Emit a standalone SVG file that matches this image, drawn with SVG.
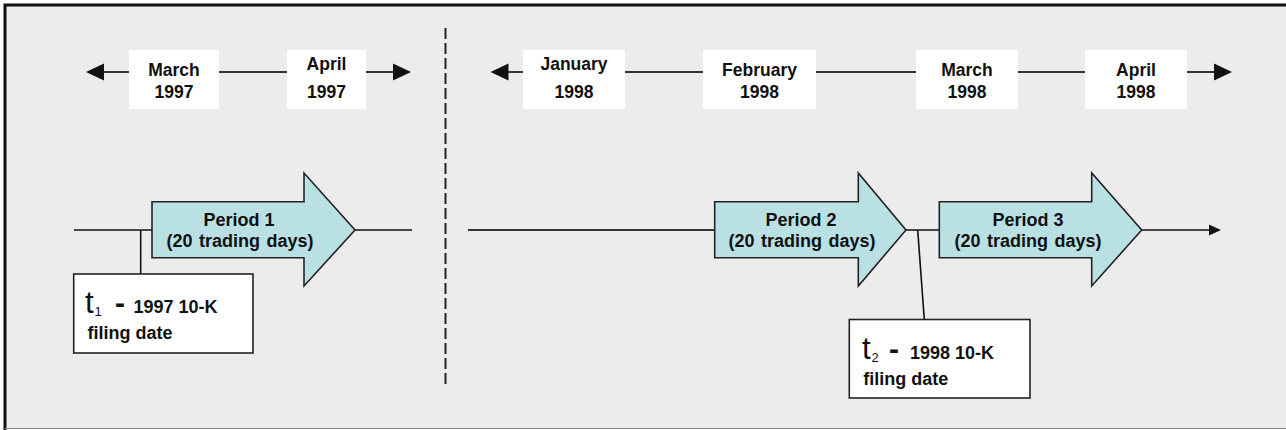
<svg xmlns="http://www.w3.org/2000/svg" width="1286" height="430" viewBox="0 0 1286 430">
<style>
.bg{fill:#ececec}
.mbox{fill:#ffffff;stroke:none}
.mt{font-family:"Liberation Sans",Arial,sans-serif;font-weight:bold;font-size:17.5px;fill:#111;text-anchor:middle}
.pt{font-family:"Liberation Sans",Arial,sans-serif;font-weight:bold;font-size:18px;fill:#111;text-anchor:middle}
.tl{stroke:#333;stroke-width:2;fill:none}
.ln{stroke:#111;stroke-width:1.6;fill:none}
.arr{fill:#b9e0e3;stroke:#222;stroke-width:1.6;stroke-linejoin:miter}
.tbox{fill:#fff;stroke:#222;stroke-width:1.6}
.big{font-family:"Liberation Sans",Arial,sans-serif;font-size:31px;fill:#111}
.bigb{font-family:"Liberation Sans",Arial,sans-serif;font-size:30px;font-weight:bold;fill:#111}
.sub{font-family:"Liberation Sans",Arial,sans-serif;font-size:13px;fill:#111}
.lb{font-family:"Liberation Sans",Arial,sans-serif;font-weight:bold;font-size:18px;fill:#111}
.hd{fill:#111}
</style>
<rect x="0" y="0" width="1286" height="430" fill="#fff"/>
<rect class="bg" x="5" y="5" width="1290" height="423"/>
<path d="M5,430 V5 H1290" stroke="#111" stroke-width="3" fill="none"/>
<line x1="5" y1="428.5" x2="1286" y2="428.5" stroke="#888" stroke-width="1.2"/>
<line x1="445.5" y1="28" x2="445.5" y2="386" stroke="#222" stroke-width="2" stroke-dasharray="11 4"/>

<g id="connectors">
  <line class="tl" x1="100" y1="72" x2="396" y2="72"/>
  <polygon class="hd" points="86,72 104,63.5 104,80.5"/>
  <polygon class="hd" points="411,72 393,63.5 393,80.5"/>
  <line class="tl" x1="504" y1="72" x2="1218" y2="72"/>
  <polygon class="hd" points="490.5,72 508.5,63.5 508.5,80.5"/>
  <polygon class="hd" points="1232,72 1214,63.5 1214,80.5"/>
  <line class="ln" x1="74" y1="230" x2="153" y2="230"/>
  <line class="ln" x1="355" y1="230" x2="412" y2="230"/>
  <line class="ln" x1="140.7" y1="230" x2="140.7" y2="274"/>
  <line class="tl" x1="468" y1="230" x2="715" y2="230"/>
  <line class="ln" x1="906" y1="230" x2="940" y2="230"/>
  <line class="ln" x1="917.7" y1="230" x2="924.3" y2="319.5"/>
  <line class="ln" x1="1142" y1="230" x2="1212" y2="230"/>
  <polygon class="hd" points="1221,230 1209,224.5 1209,235.5"/>
</g>

<g id="m-mar97">
  <rect class="mbox" x="129" y="50" width="90" height="59"/>
  <text class="mt" x="174" y="76">March</text>
  <text class="mt" x="174" y="98">1997</text>
</g>
<g id="m-apr97">
  <rect class="mbox" x="287" y="50" width="79" height="59"/>
  <text class="mt" x="326.5" y="70">April</text>
  <text class="mt" x="326.5" y="98">1997</text>
</g>
<g id="m-jan98">
  <rect class="mbox" x="523" y="50" width="102" height="59"/>
  <text class="mt" x="574" y="70">January</text>
  <text class="mt" x="574" y="98">1998</text>
</g>
<g id="m-feb98">
  <rect class="mbox" x="703" y="50" width="113" height="59"/>
  <text class="mt" x="759.5" y="76">February</text>
  <text class="mt" x="759.5" y="98">1998</text>
</g>
<g id="m-mar98">
  <rect class="mbox" x="916" y="50" width="102" height="59"/>
  <text class="mt" x="967" y="76">March</text>
  <text class="mt" x="967" y="98">1998</text>
</g>
<g id="m-apr98">
  <rect class="mbox" x="1085" y="50" width="102" height="59"/>
  <text class="mt" x="1136" y="76">April</text>
  <text class="mt" x="1136" y="98">1998</text>
</g>

<g id="period1">
  <polygon class="arr" points="152,201.7 304,201.7 304,173 355,230 304,286 304,257.7 152,257.7"/>
  <text class="pt" x="239" y="225.5">Period 1</text>
  <text class="pt" x="240" y="247" word-spacing="1.5">(20 trading days)</text>
</g>
<g id="period2">
  <polygon class="arr" points="714.7,201.7 858.3,201.7 858.3,173 906,230 858.3,286 858.3,257.7 714.7,257.7"/>
  <text class="pt" x="801" y="225.5">Period 2</text>
  <text class="pt" x="802" y="247" word-spacing="1.5">(20 trading days)</text>
</g>
<g id="period3">
  <polygon class="arr" points="939.3,201.7 1091.7,201.7 1091.7,173 1141.7,230 1091.7,286 1091.7,257.7 939.3,257.7"/>
  <text class="pt" x="1028" y="225.5">Period 3</text>
  <text class="pt" x="1028" y="247" word-spacing="1.5">(20 trading days)</text>
</g>

<g id="t1">
  <rect class="tbox" x="73.7" y="274" width="179.3" height="79"/>
  <text class="big" x="85" y="313">t</text>
  <text class="sub" x="94.5" y="316">1</text>
  <text class="bigb" x="115" y="313">-</text>
  <text class="lb" x="133.5" y="313">1997 10-K</text>
  <text class="lb" x="87.5" y="339">filing date</text>
</g>
<g id="t2">
  <rect class="tbox" x="849.3" y="319.5" width="180.7" height="78.5"/>
  <text class="big" x="862" y="359">t</text>
  <text class="sub" x="871.5" y="362">2</text>
  <text class="bigb" x="889" y="359">-</text>
  <text class="lb" x="910" y="359">1998 10-K</text>
  <text class="lb" x="863.3" y="385">filing date</text>
</g>
</svg>
